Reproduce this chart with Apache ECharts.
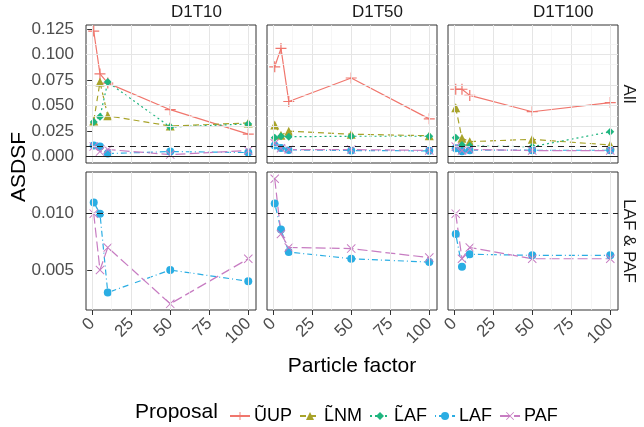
<!DOCTYPE html>
<html>
<head>
<meta charset="utf-8">
<script src="https://cdn.jsdelivr.net/npm/echarts@6/dist/echarts.min.js"></script>
<style>
html, body { margin: 0; padding: 0; background: #fff; }
#chart { width: 644px; height: 427px; }
</style>
</head>
<body>
<div id="chart"></div>
<script>
// particle factors on the x axis
var particleFactors = [1, 5, 10, 50, 100];
var datasets = ['D1T10', 'D1T50', 'D1T100'];
var rowLabels = ['All', 'LAF & PAF'];
var proposals = ['\u0168UP', 'L\u0303NM', 'L\u0303AF', 'LAF', 'PAF'];

// ASDSF per proposal, one row per dataset (D1T10, D1T50, D1T100)
var uup = [
    [0.123, 0.081, 0.072, 0.046, 0.022],
    [0.088, 0.106, 0.054, 0.077, 0.037],
    [0.066, 0.066, 0.060, 0.044, 0.053]
];
var lnm = [
    [0.035, 0.073, 0.040, 0.030, 0.033],
    [0.031, 0.021, 0.025, 0.022, 0.0205],
    [0.048, 0.018, 0.0147, 0.017, 0.0114]
];
var lafTilde = [
    [0.034, 0.039, 0.073, 0.029, 0.032],
    [0.0186, 0.020, 0.0195, 0.020, 0.020],
    [0.0186, 0.0114, 0.0104, 0.0098, 0.0244]
];
var laf = [
    [0.011, 0.010, 0.003, 0.005, 0.004],
    [0.0109, 0.0086, 0.0066, 0.0060, 0.0057],
    [0.0082, 0.0053, 0.0064, 0.0063, 0.0063]
];
var paf = [
    [0.010, 0.005, 0.007, 0.002, 0.006],
    [0.0131, 0.0082, 0.0070, 0.0069, 0.0061],
    [0.0100, 0.0060, 0.0070, 0.0060, 0.0060]
];

// reference lines
var dashedRef = 0.01;
var solidRef = [0.003, 0.004, 0.0043];

// tick labels
var xTicks = [0, 25, 50, 75, 100];
var yTicksAll = [0, 0.025, 0.05, 0.075, 0.1, 0.125];
var yTicksSub = [0.005, 0.010];

var colors = ['#F0766D', '#A8A32A', '#1FB57F', '#2AADE3', '#C77CC2'];
var dashes = ['solid', [6, 4], [2, 3], [1, 3, 6, 3], [10, 4]];
var plusPath = 'path://M4.45,0L5.55,0L5.55,10L4.45,10Z M0,4.45L10,4.45L10,5.55L0,5.55Z';
var crossPath = 'path://M0,0.75L0.75,0L10,9.25L9.25,10Z M10,0.75L0.75,10L0,9.25L9.25,0Z';
var symbols = [plusPath, 'triangle', 'diamond', 'circle', crossPath];
var symbolSizes = [11, 9, 8, 8, 9];
var allValues = [uup, lnm, lafTilde, laf, paf];

var font = 'Liberation Sans, Arial, sans-serif';
var lefts = [86, 267, 448];
var tops = [25, 172];
var panelW = 170, panelH = 138;
var yRanges = [[-0.0062, 0.1289], [0.00145, 0.0137]];

function mids(ticks) {
    var out = [];
    for (var i = 0; i < ticks.length - 1; i++) out.push((ticks[i] + ticks[i + 1]) / 2);
    return out;
}

var grids = [], xAxes = [], yAxes = [], series = [];

for (var r = 0; r < 2; r++) {
    for (var c = 0; c < 3; c++) {
        var idx = grids.length;
        var yTicks = r === 0 ? yTicksAll : yTicksSub;
        grids.push({
            left: lefts[c], top: tops[r], width: panelW, height: panelH,
            show: true, borderColor: '#333', borderWidth: 1, backgroundColor: 'transparent'
        });
        xAxes.push({
            type: 'value', gridIndex: idx, min: -3.95, max: 104.95,
            axisLine: { show: false },
            axisTick: { show: r === 1, customValues: xTicks, length: 5, lineStyle: { color: '#333' } },
            axisLabel: {
                show: r === 1, customValues: xTicks, rotate: 45, margin: 11,
                fontSize: 17, color: '#4d4d4d', fontFamily: font
            },
            splitLine: { show: false }
        });
        yAxes.push({
            type: 'value', gridIndex: idx, min: yRanges[r][0], max: yRanges[r][1],
            axisLine: { show: false },
            axisTick: { show: c === 0, customValues: yTicks, length: 5, lineStyle: { color: '#333' } },
            axisLabel: {
                show: c === 0, customValues: yTicks, margin: 12,
                fontSize: 17, color: '#4d4d4d', fontFamily: font,
                formatter: function (v) { return v.toFixed(3); }
            },
            splitLine: { show: false }
        });

        // background grid lines
        var gl = [];
        xTicks.forEach(function (v) { gl.push({ xAxis: v, lineStyle: { color: '#e5e5e5', width: 1, type: 'solid' } }); });
        mids(xTicks).forEach(function (v) { gl.push({ xAxis: v, lineStyle: { color: '#f2f2f2', width: 0.7, type: 'solid' } }); });
        var yMinor = mids(yTicks);
        if (r === 1) yMinor = [0.0025].concat(yMinor).concat([0.0125]);
        yTicks.forEach(function (v) { gl.push({ yAxis: v, lineStyle: { color: '#e5e5e5', width: 1, type: 'solid' } }); });
        yMinor.forEach(function (v) { gl.push({ yAxis: v, lineStyle: { color: '#f2f2f2', width: 0.7, type: 'solid' } }); });
        series.push({
            type: 'line', xAxisIndex: idx, yAxisIndex: idx, data: [], silent: true, z: 1,
            markLine: { silent: true, symbol: 'none', animation: false, label: { show: false }, data: gl }
        });
        // reference lines
        series.push({
            type: 'line', xAxisIndex: idx, yAxisIndex: idx, data: [], silent: true, z: 2,
            markLine: {
                silent: true, symbol: 'none', animation: false, label: { show: false },
                data: [
                    { yAxis: dashedRef, lineStyle: { color: '#222', width: 1, type: [6, 5] } },
                    { yAxis: solidRef[c], lineStyle: { color: '#222', width: 1, type: 'solid' } }
                ]
            }
        });

        for (var p = 0; p < 5; p++) {
            if (r === 1 && p < 3) continue;
            var vals = allValues[p][c];
            series.push({
                name: proposals[p], type: 'line', xAxisIndex: idx, yAxisIndex: idx, z: 3,
                data: particleFactors.map(function (x, i) { return [x, vals[i]]; }),
                symbol: symbols[p], symbolSize: symbolSizes[p], showAllSymbol: true,
                lineStyle: { color: colors[p], width: 1.2, type: dashes[p] },
                itemStyle: { color: colors[p] },
                animation: false
            });
        }
    }
}

var graphics = [];
datasets.forEach(function (d, c) {
    graphics.push({
        type: 'text', left: lefts[c] + panelW / 2, top: 4,
        style: { text: d, font: '17px ' + font, fill: '#1a1a1a', textAlign: 'center' }
    });
});
rowLabels.forEach(function (t, r) {
    graphics.push({
        type: 'text', x: 629, y: tops[r] + panelH / 2, rotation: -Math.PI / 2,
        style: { text: t, font: '17px ' + font, fill: '#1a1a1a', textAlign: 'center', textVerticalAlign: 'middle' }
    });
});
graphics.push({
    type: 'text', x: 19, y: 167, rotation: Math.PI / 2,
    style: { text: 'ASDSF', font: '21px ' + font, fill: '#000', textAlign: 'center', textVerticalAlign: 'middle' }
});
graphics.push({
    type: 'text', x: 352, y: 366,
    style: { text: 'Particle factor', font: '21px ' + font, fill: '#000', textAlign: 'center', textVerticalAlign: 'middle' }
});
graphics.push({
    type: 'text', x: 135, y: 412,
    style: { text: 'Proposal', font: '21px ' + font, fill: '#000', textAlign: 'left', textVerticalAlign: 'middle' }
});

var chart = echarts.init(document.getElementById('chart'));
chart.setOption({
    animation: false,
    grid: grids,
    xAxis: xAxes,
    yAxis: yAxes,
    legend: {
        data: proposals, left: 224, top: 402, itemWidth: 20, itemHeight: 10, itemGap: 7,
        selectedMode: false,
        textStyle: { fontSize: 18, color: '#000', fontFamily: font, padding: [0, 0, 0, -1] }
    },
    graphic: graphics,
    series: series
});
</script>
</body>
</html>
